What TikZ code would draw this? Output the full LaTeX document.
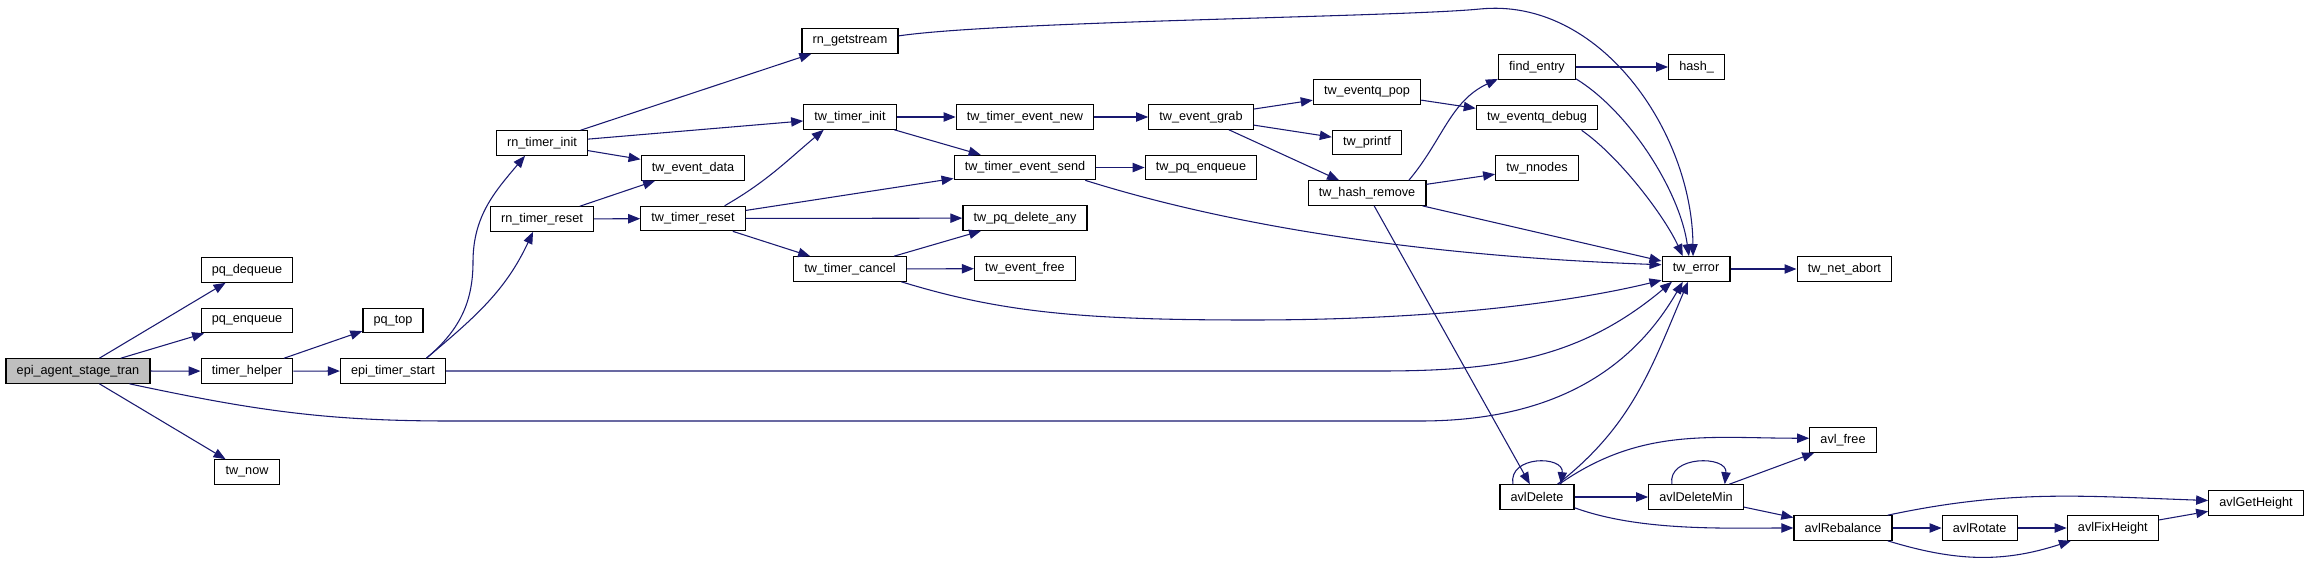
\documentclass[tikz,border=0pt]{standalone}
\usepackage{fontspec}
\setmainfont{Liberation Sans}
\usepackage{tikz}
\usetikzlibrary{positioning, arrows.meta}
\definecolor{edgeblue}{HTML}{191970}
\definecolor{rootgray}{HTML}{BFBFBF}

\begin{document}
\begin{tikzpicture}[x=0.75pt, y=0.75pt, node distance=18.7pt and 36.75pt,
    fn/.style={draw=black, line width=0.9pt, fill=white, font=\fontsize{9.5}{11}\selectfont,
      minimum height=18.3pt, inner xsep=8pt, inner ysep=0pt},
    call/.style={draw=edgeblue, line width=0.8pt, -{Triangle[length=9pt, width=7pt]}}]

  \useasboundingbox (0,0) rectangle (2309,562);

  % caller and first callees
  \node[fn, fill=rootgray] (stagetran) at (78,191) {epi\_agent\_stage\_tran};
  \node[fn] (pqdequeue) at (247,292) {pq\_dequeue};
  \node[fn, below=of pqdequeue] (pqenqueue) {pq\_enqueue};
  \node[fn, below=of pqenqueue] (timerhelper) {timer\_helper};
  \node[fn] (twnow) at (247,90) {tw\_now};
  \node[fn] (epistart) at (393,191) {epi\_timer\_start};
  \node[fn, above=of epistart] (pqtop) {pq\_top};

  % timer layer
  \node[fn] (rninit) at (542,419) {rn\_timer\_init};
  \node[fn] (rnreset) at (542,343) {rn\_timer\_reset};
  \node[fn] (eventdata) at (693,394) {tw\_event\_data};
  \node[fn, below=of eventdata] (timerreset) {tw\_timer\_reset};
  \node[fn] (getstream) at (850,521) {rn\_getstream};
  \node[fn] (timerinit) at (850,445) {tw\_timer\_init};
  \node[fn] (timercancel) at (850,293) {tw\_timer\_cancel};
  \node[fn] (eventnew) at (1025,445) {tw\_timer\_event\_new};
  \node[fn, below=of eventnew] (eventsend) {tw\_timer\_event\_send};
  \node[fn, below=of eventsend] (pqdelete) {tw\_pq\_delete\_any};
  \node[fn, below=of pqdelete] (eventfree) {tw\_event\_free};
  \node[fn] (eventgrab) at (1201,445) {tw\_event\_grab};
  \node[fn, below=of eventgrab] (twpqenqueue) {tw\_pq\_enqueue};

  % event queue and hash
  \node[fn] (eventqpop) at (1367,470) {tw\_eventq\_pop};
  \node[fn, below=of eventqpop] (printf) {tw\_printf};
  \node[fn, below=of printf] (hashremove) {tw\_hash\_remove};
  \node[fn] (findentry) at (1537,495) {find\_entry};
  \node[fn, below=of findentry] (eventqdebug) {tw\_eventq\_debug};
  \node[fn, below=of eventqdebug] (nnodes) {tw\_nnodes};
  \node[fn, right=69pt of findentry] (hash) {hash\_};
  \node[fn] (twerror) at (1696,293) {tw\_error};
  \node[fn, right=49.5pt of twerror] (netabort) {tw\_net\_abort};

  % avl tree
  \node[fn] (avldelete) at (1537,65) {avlDelete};
  \node[fn] (avldelmin) at (1696,65) {avlDeleteMin};
  \node[fn] (avlfree) at (1843,122) {avl\_free};
  \node[fn] (avlrebal) at (1843,34) {avlRebalance};
  \node[fn, right=of avlrebal] (avlrotate) {avlRotate};
  \node[fn, right=of avlrotate] (avlfix) {avlFixHeight};
  \node[fn] (avlgetheight) at (2256,59) {avlGetHeight};

  \draw[call] (stagetran) -- (pqdequeue);
  \draw[call] (stagetran) -- (pqenqueue);
  \draw[call] (stagetran) -- (timerhelper);
  \draw[call] (stagetran) -- (twnow);
  \draw[call] (stagetran.-14) to[out=-12, in=180] (450,141) -- (1420,141) to[out=0, in=-120] (twerror.-136);
  \draw[call] (timerhelper) -- (pqtop);
  \draw[call] (timerhelper) -- (epistart);
  \draw[call] (epistart.21) to[out=40, in=-90] (473,300) to[out=90, in=-130] (rninit.-143);
  \draw[call] (epistart.21) to[out=40, in=-115] (rnreset.-125);
  \draw[call] (epistart) -- (1380,191) to[out=0, in=-140] (twerror.-152);

  \draw[call] (rninit) -- (getstream);
  \draw[call] (rninit) -- (timerinit);
  \draw[call] (rninit) -- (eventdata);
  \draw[call] (rnreset) -- (eventdata);
  \draw[call] (rnreset) -- (timerreset);
  \draw[call] (timerreset.22) to[out=30, in=-140] (timerinit.-154);
  \draw[call] (timerreset) -- (eventsend);
  \draw[call] (timerreset) -- (pqdelete);
  \draw[call] (timerreset) -- (timercancel);
  \draw[call] (timerinit) -- (eventnew);
  \draw[call] (timerinit) -- (eventsend);
  \draw[call] (getstream.6) .. controls (1000,541) and (1400,545) .. (1480,553)
    .. controls (1600,565) and (1692,430) .. (twerror.103);
  \draw[call] (eventnew) -- (eventgrab);
  \draw[call] (eventgrab) -- (eventqpop);
  \draw[call] (eventgrab) -- (printf);
  \draw[call] (eventgrab) -- (hashremove);
  \draw[call] (eventqpop) -- (eventqdebug);
  \draw[call] (eventsend) -- (twpqenqueue);
  \draw[call] (eventsend.-12) .. controls (1250,330) and (1450,305) .. (twerror.173);
  \draw[call] (timercancel) -- (pqdelete);
  \draw[call] (timercancel) -- (eventfree);
  \draw[call] (timercancel.-14) .. controls (1000,250) and (1080,242) .. (1250,242)
    .. controls (1450,242) and (1580,262) .. (twerror.-162);

  \draw[call] (hashremove.17) to[out=50, in=-155] (findentry.-163);
  \draw[call] (hashremove) -- (nnodes);
  \draw[call] (hashremove) -- (twerror);
  \draw[call] (hashremove) -- (avldelete);
  \draw[call] (findentry) -- (hash);
  \draw[call] (findentry.-17) .. controls (1630,450) and (1680,370) .. (twerror.119);
  \draw[call] (eventqdebug.-16) .. controls (1620,405) and (1665,345) .. (twerror.136);
  \draw[call] (twerror) -- (netabort);

  \draw[call] (avldelete.152) .. controls +(-5,29) and +(3,29) .. (avldelete.28);
  \draw[call] (avldelete.32) to[out=38, in=-113] (twerror.-122);
  \draw[call] (avldelete.30) to[out=35, in=180] (avlfree.177);
  \draw[call] (avldelete) -- (avldelmin);
  \draw[call] (avldelete.-16) to[out=-20, in=180, looseness=0.8] (avlrebal.west);
  \draw[call] (avldelmin.152) .. controls +(-5,29) and +(3,29) .. (avldelmin.24);
  \draw[call] (avldelmin.21) -- (avlfree.-156);
  \draw[call] (avldelmin) -- (avlrebal);
  \draw[call] (avlrebal.16) to[out=12, in=178] (avlgetheight.177);
  \draw[call] (avlrebal) -- (avlrotate);
  \draw[call] (avlrebal.-16) to[out=-17, in=-162] (avlfix.-163);
  \draw[call] (avlrotate) -- (avlfix);
  \draw[call] (avlfix) -- (avlgetheight);
\end{tikzpicture}
\end{document}
